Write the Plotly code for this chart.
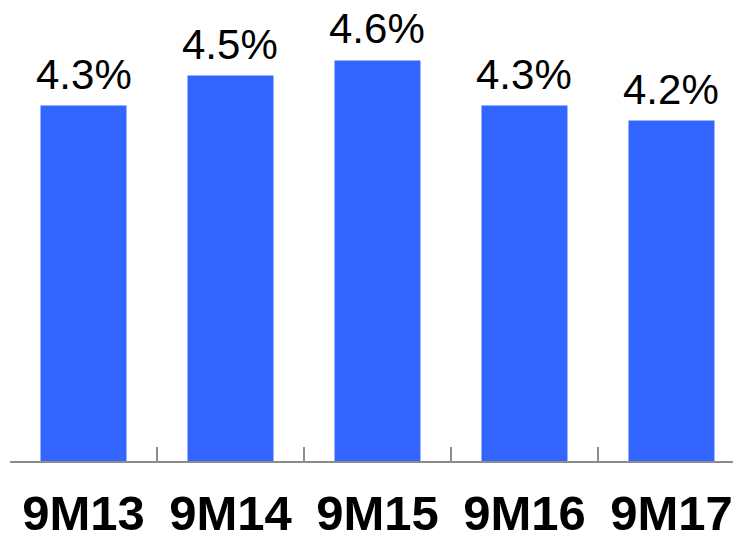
import plotly.graph_objects as go

categories = ["9M13", "9M14", "9M15", "9M16", "9M17"]
values = [4.3, 4.5, 4.6, 4.3, 4.2]
labels = ["4.3%", "4.5%", "4.6%", "4.3%", "4.2%"]

fig = go.Figure(go.Bar(
    x=categories, y=values,
    marker=dict(color="#3366FF", line=dict(width=0)),
    cliponaxis=False,
))

for c, v, t in zip(categories, values, labels):
    fig.add_annotation(
        x=c, y=v, text=t, showarrow=False, yanchor="bottom", yshift=6,
        font=dict(family="Liberation Sans, Arial", size=42, color="#000000"),
    )

# page body has an 8px margin, so the figure is sized to fit the window
fig.update_layout(
    width=733, height=529,
    margin=dict(l=2, r=0, t=0, b=76),
    paper_bgcolor="white", plot_bgcolor="white",
    bargap=0.415,
    showlegend=False,
    xaxis=dict(
        range=[-0.5, 4.473], automargin=False,
        showline=True, linecolor="#8c8c8c", linewidth=1.5,
        ticks="inside", tickson="boundaries", ticklen=14, tickwidth=1.5, tickcolor="#8c8c8c",
        tickfont=dict(family="Liberation Sans, Arial", size=49, color="#000000", weight="bold"),
        ticklabelstandoff=8,
        showgrid=False, zeroline=False,
    ),
    yaxis=dict(range=[1.93, 4.95], visible=False, showgrid=False, zeroline=False, automargin=False),
)

fig.write_html("out.html")
